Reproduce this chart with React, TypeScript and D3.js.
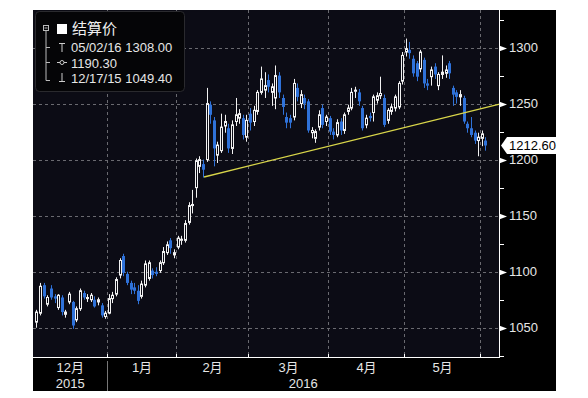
import React, { useRef, useEffect } from 'react'
import * as d3 from 'd3'

// trading days shown (weekends and exchange holidays skipped)
const startDay = '2015-12-03'
const endDay = '2016-06-02'
const holidays = ['2015-12-25', '2016-01-01', '2016-01-18', '2016-02-15', '2016-03-25', '2016-05-30']

const opens = [
  1055, 1063, 1088, 1071, 1085, 1078, 1068, 1077, 1062, 1073, 1073, 1057, 1067, 1081, 1076, 1075, 1075, 1073, 1070, 1060,
  1063, 1076, 1080, 1097, 1114, 1098, 1090, 1086, 1083, 1078, 1088, 1094, 1101, 1100, 1101, 1108, 1117, 1128, 1115,
  1122, 1128, 1128, 1144, 1159, 1175, 1194, 1196, 1200, 1249, 1235, 1204, 1208, 1230, 1228, 1210, 1234, 1237, 1237, 1220,
  1241, 1234, 1243, 1260, 1262, 1271, 1260, 1255, 1275, 1255, 1238, 1237, 1238, 1264, 1250, 1255, 1252, 1224, 1219, 1229, 1246, 1234, 1237,
  1225, 1222, 1234, 1226, 1243, 1246, 1261, 1260, 1246, 1231, 1239, 1242, 1253, 1257, 1255, 1235, 1243, 1246, 1247, 1270,
  1296, 1298, 1290, 1286, 1281, 1289, 1268, 1274, 1283, 1266, 1276, 1277, 1286, 1264, 1260, 1256, 1255, 1232, 1228, 1224, 1217,
  1219, 1217,
]
const highs = [
  1066, 1090, 1090, 1079, 1088, 1080, 1080, 1079, 1066, 1082, 1074, 1069, 1085, 1083, 1080, 1081, 1078, 1077, 1072, 1065,
  1080, 1082, 1095, 1112, 1116, 1100, 1092, 1090, 1088, 1092, 1110, 1110, 1103, 1104, 1110, 1122, 1127, 1130, 1120,
  1132, 1132, 1146, 1162, 1173, 1201, 1203, 1200, 1264, 1252, 1238, 1216, 1241, 1240, 1232, 1235, 1255, 1245, 1240, 1240,
  1246, 1248, 1262, 1283, 1278, 1276, 1268, 1284, 1278, 1258, 1242, 1240, 1272, 1268, 1262, 1258, 1254, 1229, 1227, 1244, 1249, 1240, 1239,
  1228, 1236, 1237, 1242, 1249, 1264, 1265, 1263, 1248, 1240, 1242, 1258, 1260, 1274, 1258, 1246, 1250, 1258, 1270, 1296,
  1308, 1305, 1293, 1288, 1298, 1291, 1272, 1283, 1286, 1278, 1293, 1284, 1288, 1266, 1262, 1262, 1257, 1234, 1238, 1226, 1224,
  1226, 1220,
]
const lows = [
  1050, 1061, 1076, 1069, 1075, 1072, 1066, 1061, 1059, 1071, 1049, 1055, 1065, 1075, 1073, 1073, 1068, 1070, 1059, 1058,
  1062, 1072, 1078, 1094, 1096, 1088, 1080, 1080, 1071, 1076, 1086, 1092, 1094, 1096, 1099, 1106, 1115, 1116, 1112,
  1120, 1124, 1126, 1142, 1152, 1166, 1188, 1184, 1198, 1232, 1194, 1197, 1206, 1224, 1206, 1205, 1230, 1232, 1218, 1216,
  1226, 1230, 1240, 1258, 1255, 1260, 1248, 1245, 1255, 1240, 1228, 1228, 1235, 1252, 1246, 1245, 1224, 1219, 1215, 1226, 1228, 1230, 1222,
  1218, 1220, 1222, 1223, 1240, 1244, 1255, 1248, 1226, 1228, 1234, 1234, 1250, 1254, 1229, 1232, 1240, 1243, 1245, 1267,
  1292, 1290, 1274, 1270, 1278, 1264, 1262, 1266, 1272, 1262, 1272, 1273, 1272, 1248, 1250, 1248, 1232, 1224, 1220, 1214, 1203,
  1212, 1208,
]
const closes = [
  1064, 1087, 1078, 1077, 1077, 1076, 1079, 1064, 1064, 1080, 1052, 1067, 1083, 1077, 1077, 1079, 1069, 1075, 1061, 1063,
  1076, 1079, 1093, 1110, 1099, 1090, 1084, 1083, 1074, 1089, 1107, 1108, 1097, 1098, 1108, 1118, 1124, 1121, 1117,
  1130, 1129, 1143, 1159, 1160, 1199, 1200, 1191, 1250, 1240, 1210, 1213, 1229, 1234, 1210, 1231, 1240, 1241, 1222, 1235,
  1233, 1244, 1260, 1272, 1266, 1265, 1265, 1275, 1260, 1247, 1233, 1233, 1268, 1256, 1258, 1250, 1226, 1226, 1225, 1240, 1231, 1238, 1225,
  1222, 1233, 1226, 1240, 1246, 1260, 1262, 1252, 1228, 1237, 1237, 1256, 1257, 1259, 1231, 1244, 1247, 1256, 1268, 1293,
  1299, 1295, 1277, 1274, 1296, 1268, 1266, 1280, 1276, 1276, 1278, 1280, 1277, 1258, 1256, 1258, 1234, 1228, 1222, 1217, 1220,
  1223, 1212.6,
]

const yTicks = [1050, 1100, 1150, 1200, 1250, 1300]
const yMinorTicks = [1025, 1075, 1125, 1175, 1225, 1275, 1325]
const monthNames = ['12月', '1月', '2月', '3月', '4月', '5月']
const yearNames = ['2015', '2016']
const legendTitle = '结算价'
const legendRows = ['05/02/16 1308.00', '1190.30', '12/17/15 1049.40']
const lastPrice = 1212.6
// yellow support line: [candle index, price]
const trendLine: [number, number][] = [[46.3, 1184.5], [127.9, 1249.6]]

const W = 588
const H = 398
const panel = { left: 33, top: 10, right: 556, bottom: 391 }
const plot = { left: 33, top: 10, right: 499, bottom: 357 }
const plotBg = '#0c0c15'
const blue = '#2f72d9'
const font = "'Liberation Sans', Arial, 'Noto Sans CJK SC', sans-serif"

export default function App() {
  const svgRef = useRef<SVGSVGElement>(null)

  useEffect(() => {
    const svg = d3.select(svgRef.current)
    svg.selectAll('*').remove()

    const fmt = d3.utcFormat('%Y-%m-%d')
    const days = d3.utcDays(new Date(startDay), d3.utcDay.offset(new Date(endDay), 1))
      .filter(d => d.getUTCDay() !== 0 && d.getUTCDay() !== 6 && !holidays.includes(fmt(d)))
    const n = Math.min(days.length, closes.length)

    const x = d3.scaleLinear().domain([-0.95, 127.75]).range([plot.left, plot.right])
    const y = d3.scaleLinear().domain([1023.9, 1333.5]).range([plot.bottom, plot.top])

    // month boundaries (between last day of one month and first of the next)
    const bounds: number[] = []
    for (let i = 1; i < n; i++) {
      if (days[i].getUTCMonth() !== days[i - 1].getUTCMonth()) bounds.push(i - 0.5)
    }
    const bx = bounds.map(b => Math.round(x(b)) + 0.5)

    svg.append('rect').attr('width', W).attr('height', H).attr('fill', '#fff')
    svg.append('rect')
      .attr('x', panel.left).attr('y', panel.top)
      .attr('width', panel.right - panel.left).attr('height', panel.bottom - panel.top)
      .attr('fill', '#000')
    svg.append('rect')
      .attr('x', plot.left).attr('y', plot.top)
      .attr('width', plot.right - plot.left).attr('height', plot.bottom - plot.top)
      .attr('fill', plotBg)

    // grid
    const grid = svg.append('g').attr('stroke', '#6a6a70').attr('stroke-dasharray', '3,3').attr('stroke-width', 1)
    grid.selectAll('line.h').data(yTicks).join('line')
      .attr('x1', plot.left).attr('x2', plot.right)
      .attr('y1', d => Math.round(y(d)) + 0.5).attr('y2', d => Math.round(y(d)) + 0.5)
    grid.selectAll('line.v').data(bx).join('line')
      .attr('x1', d => d).attr('x2', d => d)
      .attr('y1', plot.top).attr('y2', plot.bottom)

    // candles
    const idx = d3.range(n)
    const up = (i: number) => closes[i] >= opens[i]
    const cg = svg.append('g')
    cg.selectAll('line').data(idx).join('line')
      .attr('x1', i => Math.round(x(i)) + 0.5).attr('x2', i => Math.round(x(i)) + 0.5)
      .attr('y1', i => y(highs[i])).attr('y2', i => y(lows[i]))
      .attr('stroke', i => (up(i) ? '#f2f2f2' : blue))
      .attr('stroke-width', 1)
    cg.selectAll('rect').data(idx).join('rect')
      .attr('x', i => (up(i) ? Math.round(x(i)) - 0.5 : Math.round(x(i)) - 1))
      .attr('width', i => (up(i) ? 2 : 3))
      .attr('y', i => y(Math.max(opens[i], closes[i])))
      .attr('height', i => Math.max(1, Math.abs(y(opens[i]) - y(closes[i]))))
      .attr('fill', i => (up(i) ? plotBg : blue))
      .attr('stroke', i => (up(i) ? '#f2f2f2' : 'none'))
      .attr('stroke-width', 1)

    // trend line
    svg.append('path')
      .attr('d', d3.line<[number, number]>().x(d => x(d[0])).y(d => y(d[1]))(trendLine))
      .attr('stroke', '#d9d64a').attr('stroke-width', 1.3).attr('fill', 'none')

    // y axis on the right
    const ax = svg.append('g')
    ax.append('line')
      .attr('x1', plot.right + 0.5).attr('x2', plot.right + 0.5)
      .attr('y1', plot.top).attr('y2', plot.bottom + 1)
      .attr('stroke', '#fff')
    ax.selectAll('line.minor').data(yMinorTicks).join('line')
      .attr('x1', plot.right).attr('x2', plot.right + 5)
      .attr('y1', d => Math.round(y(d)) + 0.5).attr('y2', d => Math.round(y(d)) + 0.5)
      .attr('stroke', '#fff')
    ax.selectAll('path.major').data(yTicks).join('path')
      .attr('d', d => {
        const yy = Math.round(y(d)) + 0.5
        return `M${plot.right},${yy - 3}L${plot.right + 8},${yy}L${plot.right},${yy + 3}Z`
      })
      .attr('fill', '#fff')
    ax.selectAll('text').data(yTicks).join('text')
      .attr('x', plot.right + 10).attr('y', d => y(d))
      .attr('dy', '0.35em')
      .attr('fill', '#e6e6e6').attr('font-size', 13).attr('font-family', font)
      .text(d => d)

    // last price tag
    const ly = y(lastPrice)
    svg.append('path')
      .attr('d', `M${plot.right + 2},${ly}L${plot.right + 8},${ly - 8.5}L${panel.right},${ly - 8.5}L${panel.right},${ly + 8.5}L${plot.right + 8},${ly + 8.5}Z`)
      .attr('fill', '#fff')
    svg.append('text')
      .attr('x', plot.right + 10).attr('y', ly).attr('dy', '0.35em')
      .attr('fill', '#000').attr('font-size', 13).attr('font-family', font)
      .text(lastPrice.toFixed(2))

    // x axis
    svg.append('line')
      .attr('x1', plot.left).attr('x2', plot.right + 1)
      .attr('y1', plot.bottom + 0.5).attr('y2', plot.bottom + 0.5)
      .attr('stroke', '#fff')
    svg.selectAll('line.xt').data(bx).join('line')
      .attr('x1', d => d).attr('x2', d => d)
      .attr('y1', plot.bottom - 3).attr('y2', plot.bottom + 1)
      .attr('stroke', '#fff')
    const edges = [plot.left, ...bx]
    svg.selectAll('text.month').data(monthNames).join('text')
      .attr('x', (d, i) => (edges[i] + edges[i + 1]) / 2)
      .attr('y', 372)
      .attr('text-anchor', 'middle')
      .attr('fill', '#e6e6e6').attr('font-size', 13).attr('font-family', font)
      .text(d => d)
    const yearEdges = [plot.left, bx[0], plot.right]
    svg.selectAll('text.year').data(yearNames).join('text')
      .attr('x', (d, i) => (yearEdges[i] + yearEdges[i + 1]) / 2)
      .attr('y', 388)
      .attr('text-anchor', 'middle')
      .attr('fill', '#e6e6e6').attr('font-size', 13).attr('font-family', font)
      .text(d => d)
    svg.append('line')
      .attr('x1', bx[0]).attr('x2', bx[0])
      .attr('y1', 361).attr('y2', panel.bottom)
      .attr('stroke', '#777')

    // legend
    const lg = svg.append('g')
    lg.append('rect')
      .attr('x', 35.5).attr('y', 11.5).attr('width', 149).attr('height', 80).attr('rx', 4)
      .attr('fill', '#050507').attr('stroke', '#2a2a2e')
    lg.append('rect').attr('x', 43.5).attr('y', 25.5).attr('width', 5).attr('height', 5)
      .attr('fill', 'none').attr('stroke', '#bbb')
    lg.append('line').attr('x1', 44.5).attr('x2', 47.5).attr('y1', 28).attr('y2', 28).attr('stroke', '#bbb')
    lg.append('path')
      .attr('d', 'M46,31V80.5H50M46,47.5H50M46,62.5H50')
      .attr('stroke', '#bbb').attr('fill', 'none')
    lg.append('rect').attr('x', 57).attr('y', 24).attr('width', 10).attr('height', 10).attr('fill', '#fff')
    lg.append('path').attr('d', 'M59,43.5H65M62,43.5V52').attr('stroke', '#ccc').attr('fill', 'none')
    lg.append('path').attr('d', 'M57,62.5H67').attr('stroke', '#ccc')
    lg.append('circle').attr('cx', 62).attr('cy', 62.5).attr('r', 2).attr('fill', '#000').attr('stroke', '#ccc')
    lg.append('path').attr('d', 'M59,81.5H65M62,73V81.5').attr('stroke', '#ccc').attr('fill', 'none')
    lg.append('text').attr('x', 72).attr('y', 34).attr('fill', '#f0f0f0')
      .attr('font-size', 15).attr('font-family', font).text(legendTitle)
    lg.selectAll('text.row').data(legendRows).join('text')
      .attr('x', 71).attr('y', (d, i) => 52 + i * 15.5)
      .attr('fill', '#e6e6e6').attr('font-size', 13).attr('font-family', font)
      .text(d => d)
  }, [])

  return (
    <svg ref={svgRef} width={W} height={H} style={{ position: 'absolute', left: 0, top: 0 }} />
  )
}
